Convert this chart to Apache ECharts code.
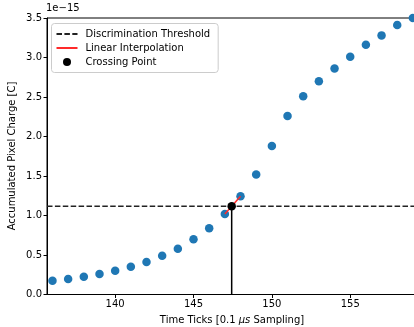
<!DOCTYPE html>
<html><head><meta charset="utf-8">
<script src="https://cdn.jsdelivr.net/npm/echarts@6/dist/echarts.min.js"></script>
<style>html,body{margin:0;padding:0;background:#fff}#c{width:414px;height:327px}</style>
</head><body><div id="c"></div>
<script>
// Data (charge in units of 1e-15 C)
const ticks = [136,137,138,139,140,141,142,143,144,145,146,147,148,149,150,151,152,153,154,155,156,157,158,159];
const charge = [0.175,0.196,0.226,0.26,0.30,0.35,0.41,0.49,0.58,0.70,0.84,1.02,1.245,1.52,1.88,2.26,2.51,2.70,2.86,3.01,3.16,3.28,3.41,3.50];
const threshold = 1.118;
const xTickLabels = [140,145,150,155];
const yTickLabels = [0.0,0.5,1.0,1.5,2.0,2.5,3.0,3.5];
const xMin = 135.65, xMax = 159.8;

// crossing via linear interpolation between samples
let ci = 0;
for (let i = 0; i < charge.length - 1; i++) { if (charge[i] < threshold && charge[i+1] >= threshold) { ci = i; break; } }
const t = (threshold - charge[ci]) / (charge[ci+1] - charge[ci]);
const xCross = ticks[ci] + t * (ticks[ci+1] - ticks[ci]);

const font = 'DejaVu Sans';
const noSym = {color: 'rgba(0,0,0,0)', borderWidth: 0};
const chart = echarts.init(document.getElementById('c'), null, {renderer:'canvas'});
chart.setOption({
  animation: false,
  textStyle: {fontFamily: font},
  grid: {left: 47, top: 18, width: (xMax - xMin) * 15.67, height: 276.5, outerBoundsMode: 'none', containLabel: false,
         show: true, borderColor: '#000', borderWidth: 1},
  xAxis: {
    type: 'value', min: xMin, max: xMax,
    splitLine: {show: false},
    axisLine: {lineStyle: {color: '#000', width: 1}},
    axisTick: {length: 3.5, lineStyle: {color: '#000'}, customValues: xTickLabels},
    axisLabel: {color: '#000', fontSize: 10, fontFamily: font, margin: 5, customValues: xTickLabels}
  },
  yAxis: {
    type: 'value', min: 0, max: 3.5, interval: 0.5,
    splitLine: {show: false},
    axisLine: {show: true, lineStyle: {color: '#000', width: 1}},
    axisTick: {show: true, length: 3.5, lineStyle: {color: '#000'}},
    axisLabel: {color: '#000', fontSize: 10, fontFamily: font, margin: 5, formatter: v => yTickLabels.includes(v) ? v.toFixed(1) : ''}
  },
  legend: {
    orient: 'vertical', left: 51.5, top: 23.5,
    data: [
      {name: 'Discrimination Threshold', itemStyle: noSym},
      {name: 'Linear Interpolation', itemStyle: noSym},
      {name: 'Crossing Point', icon: 'circle', itemStyle: {color: '#000'}}
    ],
    itemWidth: 21, itemHeight: 8, itemGap: 4,
    padding: [5.5, 8, 5.5, 4],
    borderColor: '#ccc', borderWidth: 1, borderRadius: 3,
    backgroundColor: 'rgba(255,255,255,0.8)',
    textStyle: {fontSize: 10, color: '#000', fontFamily: font, padding: [0,0,0,3]}
  },
  series: [
    {type: 'scatter', name: 'samples', data: ticks.map((x,i)=>[x,charge[i]]), symbolSize: 8.5,
     itemStyle: {color: '#1f77b4', opacity: 1}, z: 2},
    {type: 'line', name: 'Discrimination Threshold', data: [[xMin, threshold],[xMax, threshold]], symbol: 'none',
     lineStyle: {color: '#222', width: 1.5, type: [5.5, 2.4]}, z: 3},
    {type: 'line', name: 'Linear Interpolation', data: [[ticks[ci], charge[ci]],[ticks[ci+1], charge[ci+1]]], symbol: 'none',
     lineStyle: {color: '#ff2a2a', width: 1.5}, itemStyle: {color: '#ff2a2a'}, z: 4},
    {type: 'line', name: 'vertical', data: [[xCross, 0],[xCross, threshold]], symbol: 'none',
     lineStyle: {color: '#000', width: 1.5}, z: 4},
    {type: 'scatter', name: 'Crossing Point', data: [[xCross, threshold]], symbolSize: 8.5,
     itemStyle: {color: '#000', opacity: 1}, z: 5}
  ],
  graphic: [
    {type: 'text', left: 46, top: 3, style: {text: '1e\u221215', fontSize: 10, fontFamily: font, fill: '#000'}},
    {type: 'text', x: 12, y: 156, rotation: Math.PI/2, style: {text: 'Accumulated Pixel Charge [C]', fontSize: 10, fontFamily: font, fill: '#000', align: 'center', verticalAlign: 'middle'}},
    {type: 'text', x: 232, y: 320, style: {
      rich: {n: {fontSize: 10, fontFamily: font, fill: '#000'}, i: {fontSize: 10, fontFamily: font, fontStyle: 'italic', fill: '#000'}},
      text: '{n|Time Ticks [0.1 }{i|\u03bcs}{n| Sampling]}', align: 'center', verticalAlign: 'middle'}}
  ]
});
</script></body></html>
